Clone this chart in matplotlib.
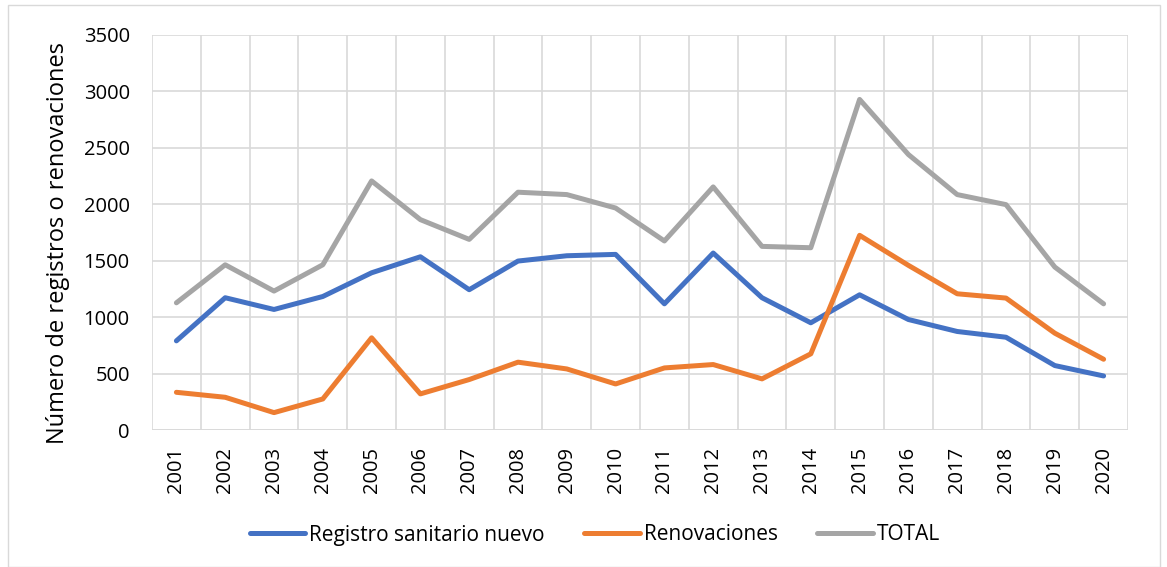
import matplotlib.pyplot as plt
from matplotlib.patches import Rectangle
import numpy as np

years = [str(y) for y in range(2001, 2021)]
nuevo = [790, 1172, 1068, 1183, 1393, 1535, 1243, 1497, 1544, 1556,
         1118, 1568, 1172, 950, 1198, 979, 873, 822, 571, 479]
renovaciones = [334, 290, 154, 275, 817, 320, 447, 601, 541, 408,
                550, 580, 453, 675, 1725, 1459, 1207, 1169, 858, 627]
total = [1127, 1464, 1231, 1464, 2207, 1864, 1689, 2107, 2086, 1967,
         1675, 2154, 1627, 1615, 2929, 2441, 2086, 1997, 1444, 1118]

plt.rcParams['font.family'] = ['Open Sans', 'DejaVu Sans']

fig = plt.figure(figsize=(11.67, 5.67), dpi=100)
ax = fig.add_axes([152 / 1167, 1 - 430 / 567, (1128 - 152) / 1167, (430 - 35) / 567])

x = np.arange(len(years))
ax.plot(x, nuevo, color='#4472C4', lw=3.6, solid_capstyle='round', label='Registro sanitario nuevo')
ax.plot(x, renovaciones, color='#ED7D31', lw=3.6, solid_capstyle='round', label='Renovaciones')
ax.plot(x, total, color='#A5A5A5', lw=3.6, solid_capstyle='round', label='TOTAL')

ax.set_xlim(-0.5, len(years) - 0.5)
ax.set_ylim(0, 3500)
ax.set_yticks(range(0, 3501, 500))
ax.set_xticks(x)
ax.set_xticklabels(years, rotation=90, fontsize=14.5)
ax.tick_params(axis='y', labelsize=14.5, length=0, pad=16)
ax.tick_params(axis='x', length=0, pad=12)

# vertical grid lines sit between categories, like the Excel original
for k in range(len(years) + 1):
    ax.axvline(k - 0.5, color='#D9D9D9', lw=1.2, zorder=0)
ax.yaxis.grid(True, color='#D9D9D9', lw=1.2, zorder=0)
ax.set_axisbelow(True)
for s in ax.spines.values():
    s.set_visible(False)
ax.axhline(0, color='#D9D9D9', lw=1.2, zorder=0)

ax.set_ylabel('Número de registros o renovaciones', fontsize=17)
ax.yaxis.set_label_coords((70 - 152) / 976, 0.473)

fig.legend(loc='center', bbox_to_anchor=(595 / 1167, 1 - 535 / 567), ncol=3,
           frameon=False, fontsize=15, handlelength=2.65, columnspacing=1.9,
           handletextpad=0.2)

fig.patches.append(Rectangle((8 / 1167, 0), (1160 - 8) / 1167, 1 - 5 / 567,
                             transform=fig.transFigure, fill=False,
                             edgecolor='#D9D9D9', lw=1))

fig.savefig('out.png', dpi=100)
